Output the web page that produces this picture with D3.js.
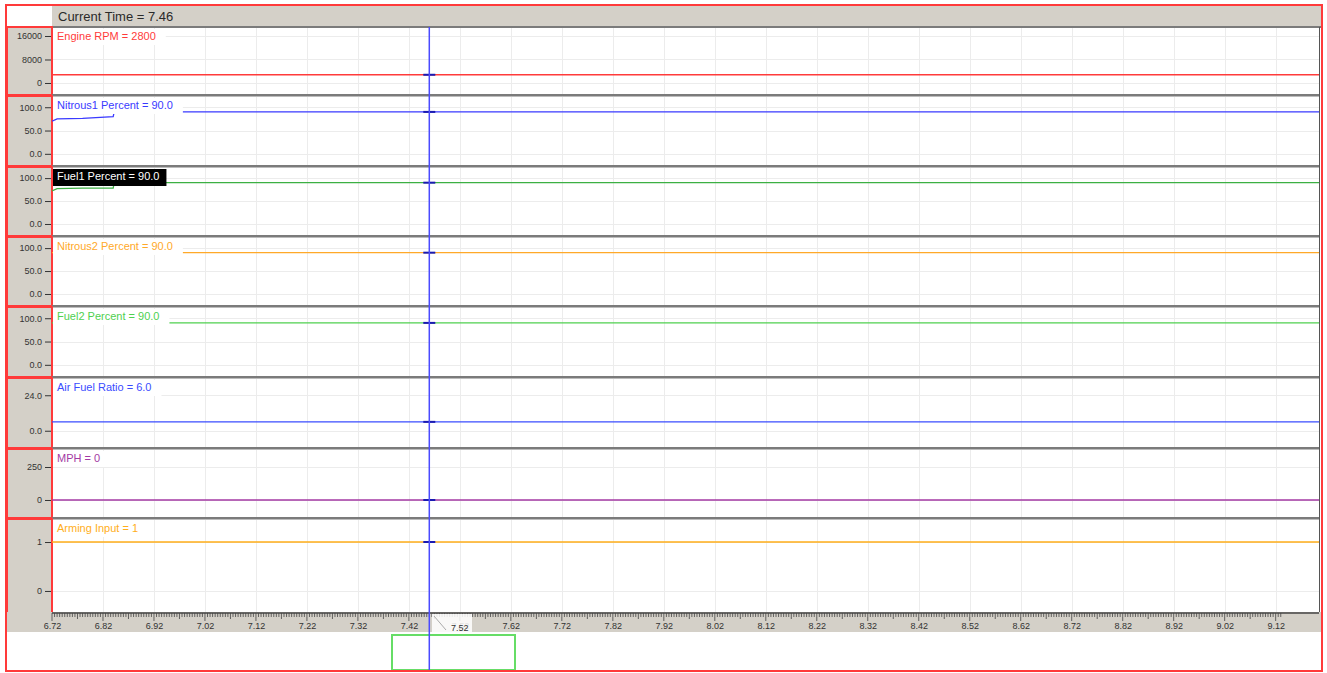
<!DOCTYPE html>
<html><head><meta charset="utf-8">
<script src="https://cdn.jsdelivr.net/npm/d3@7"></script>
<style>
html,body{margin:0;padding:0;background:#fff;}
svg{display:block;font-family:"Liberation Sans",Arial,sans-serif;}
</style></head>
<body><svg id="c" width="1327" height="673"></svg>
<script>
// ---------- data ----------
const currentTime = 7.46;
const headerText = "Current Time = 7.46";
const seriesNames = ["Engine RPM","Nitrous1 Percent","Fuel1 Percent","Nitrous2 Percent","Fuel2 Percent","Air Fuel Ratio","MPH","Arming Input"];
const seriesReadouts = ["2800","90.0","90.0","90.0","90.0","6.0","0","1"];
const times = [6.72, 6.73, 6.78, 6.84, 6.842, 9.25];
const rpmValues      = [2800, 2800, 2800, 2800, 2800, 2800];
const nitrous1Values = [70, 75, 76, 80, 90, 90];
const fuel1Values    = [72, 77, 78, 78, 90, 90];
const nitrous2Values = [90, 90, 90, 90, 90, 90];
const fuel2Values    = [90, 90, 90, 90, 90, 90];
const afrValues      = [6, 6, 6, 6, 6, 6];
const mphValues      = [0, 0, 0, 0, 0, 0];
const armingValues   = [1, 1, 1, 1, 1, 1];
const yTickValues = [[0,8000,16000],[0,50,100],[0,50,100],[0,50,100],[0,50,100],[0,24],[0,250],[0,1]];
const yTickLabels = [["0","8000","16000"],["0.0","50.0","100.0"],["0.0","50.0","100.0"],["0.0","50.0","100.0"],["0.0","50.0","100.0"],["0.0","24.0"],["0","250"],["0","1"]];
const yDomains = [[-3745,18723],[-24,122],[-24,122],[-24,122],[-24,122],[-11,35],[-129,379],[-0.43,1.45]];
const xTickValues = [6.72,6.82,6.92,7.02,7.12,7.22,7.32,7.42,7.52,7.62,7.72,7.82,7.92,8.02,8.12,8.22,8.32,8.42,8.52,8.62,8.72,8.82,8.92,9.02,9.12];
const xTickLabels = ["6.72","6.82","6.92","7.02","7.12","7.22","7.32","7.42","7.52","7.62","7.72","7.82","7.92","8.02","8.12","8.22","8.32","8.42","8.52","8.62","8.72","8.82","8.92","9.02","9.12"];
const xDomain = [6.72, 9.205];
const axisEnd = 9.13;

// ---------- styles / layout ----------
const seriesValues = [rpmValues,nitrous1Values,fuel1Values,nitrous2Values,fuel2Values,afrValues,mphValues,armingValues];
const colors = ["#ff3b3b","#3a3aff","#3cb043","#ffa929","#4fd04f","#3a4cff","#a43aa4","#ffae1a"];
const panelTop =    [28, 97, 168, 238, 308, 379, 450, 520];
const panelBottom = [94, 165, 235, 305, 376, 447, 517, 612];
const L = 52, R = 1319;
const GRAY = "#d4d0c8", RED = "#ff3a3a", SEP = "#7b7b7b";

const svg = d3.select("#c");
const x = d3.scaleLinear().domain(xDomain).range([L, R]);

// header
svg.append("rect").attr("x",L).attr("y",6).attr("width",1321-L).attr("height",21).attr("fill",GRAY);
svg.append("line").attr("x1",L).attr("x2",1321).attr("y1",27).attr("y2",27).attr("stroke",SEP).attr("stroke-width",2);
svg.append("text").attr("x",58).attr("y",21).attr("font-size",13).attr("fill","#2a2a2a").text(headerText);

const clipId = (i)=>"clip"+i;
const defs = svg.append("defs");

seriesNames.forEach((name,i)=>{
  const t = panelTop[i], b = panelBottom[i];
  const y = d3.scaleLinear().domain(yDomains[i]).range([b, t]);
  const g = svg.append("g");
  if(i>0){
    g.append("rect").attr("x",L).attr("y",panelBottom[i-1]).attr("width",R-L+1).attr("height",t-panelBottom[i-1]-0.5).attr("fill",SEP);
  }
  g.append("rect").attr("x",L).attr("y",t).attr("width",R-L).attr("height",b-t).attr("fill","#fff");
  defs.append("clipPath").attr("id",clipId(i)).append("rect").attr("x",L).attr("y",t).attr("width",R-L).attr("height",b-t);
  g.selectAll(".vg").data(xTickValues).enter().append("line")
    .attr("x1",d=>Math.round(x(d))+0.5).attr("x2",d=>Math.round(x(d))+0.5).attr("y1",t).attr("y2",b)
    .attr("stroke","#ececec").attr("stroke-width",1);
  g.selectAll(".hg").data(yTickValues[i]).enter().append("line")
    .attr("x1",L).attr("x2",R).attr("y1",d=>Math.round(y(d))+0.5).attr("y2",d=>Math.round(y(d))+0.5)
    .attr("stroke","#ececec").attr("stroke-width",1);
  g.append("rect").attr("x",7).attr("y",t-1).attr("width",L-7).attr("height",b-t+2).attr("fill",GRAY)
    .attr("stroke",RED).attr("stroke-width",2);
  const ax = d3.axisLeft(y).tickValues(yTickValues[i]).tickFormat((d,k)=>yTickLabels[i][k]).tickSize(6).tickPadding(3);
  const axg = g.append("g").attr("transform",`translate(${L-1},0)`).call(ax);
  axg.select(".domain").remove();
  axg.selectAll(".tick line").attr("stroke","#333");
  axg.selectAll(".tick text").attr("font-size",9).attr("fill","#333").attr("font-family","Liberation Sans, Arial, sans-serif");
  const data = times.map((tt,k)=>[tt, seriesValues[i][k]]);
  const line = d3.line().x(d=>x(d[0])).y(d=>y(d[1]));
  g.append("path").datum(data).attr("d",line).attr("fill","none").attr("stroke",colors[i]).attr("stroke-width",1.3)
    .attr("clip-path",`url(#${clipId(i)})`);
  const lab = g.append("g");
  const txt = lab.append("text").attr("x",57).attr("y",t+12).attr("font-size",11)
    .attr("fill", i===2 ? "#fff" : colors[i]).text(`${name} = ${seriesReadouts[i]}`);
  const w = txt.node().getComputedTextLength();
  lab.insert("rect","text").attr("x",L+1).attr("y",t+1).attr("width",w+(i===2?11:14)).attr("height",i===2?17:16)
    .attr("fill", i===2 ? "#000" : "#fff");
  const v = d3.scaleLinear().domain(times).range(seriesValues[i])(currentTime);
  g.append("line").attr("x1",x(currentTime)-6).attr("x2",x(currentTime)+6).attr("y1",y(v)).attr("y2",y(v))
    .attr("stroke","#1a1ab0").attr("stroke-width",2);
});

svg.append("line").attr("x1",R+0.5).attr("x2",R+0.5).attr("y1",27).attr("y2",613).attr("stroke","#555").attr("stroke-width",1);

// x axis strip
svg.append("rect").attr("x",7).attr("y",612).attr("width",1314).attr("height",20).attr("fill",GRAY);
svg.append("line").attr("x1",L).attr("x2",R).attr("y1",613).attr("y2",613).attr("stroke","#444").attr("stroke-width",1.5);
const minor = d3.range(0, Math.round((axisEnd - xDomain[0])/0.005)+1).map(k=>xDomain[0]+k*0.005);
svg.append("g").selectAll("line").data(minor).enter().append("line")
  .attr("x1",d=>x(d)).attr("x2",d=>x(d)).attr("y1",613)
  .attr("y2",(d,k)=> k%20===0 ? 621 : (k%10===0 ? 619 : 617))
  .attr("stroke","#444").attr("stroke-width",0.8);
const xa = d3.axisBottom(x).tickValues(xTickValues).tickFormat((d,k)=>xTickLabels[k]).tickSize(0).tickPadding(0);
const xag = svg.append("g").attr("transform","translate(0,623)").call(xa);
xag.select(".domain").remove();
xag.selectAll(".tick text").attr("font-size",9).attr("fill","#333").attr("font-family","Liberation Sans, Arial, sans-serif");

// cursor handle on axis
svg.append("rect").attr("x",432).attr("y",614).attr("width",40).attr("height",18).attr("fill","#fff").attr("opacity",0.85);
svg.append("line").attr("x1",434).attr("y1",616).attr("x2",446).attr("y2",630).attr("stroke","#aaa");
svg.append("text").attr("x",x(7.52)).attr("y",631).attr("text-anchor","middle").attr("font-size",9).attr("fill","#333").text("7.52");

// overview window
svg.append("rect").attr("x",392).attr("y",635).attr("width",123).attr("height",35).attr("fill","none")
  .attr("stroke","#66dd66").attr("stroke-width",2);

// cursor line
svg.append("line").attr("x1",x(currentTime)).attr("x2",x(currentTime)).attr("y1",27).attr("y2",671)
  .attr("stroke","#4a4aff").attr("stroke-width",1.5);

// outer border
svg.append("rect").attr("x",6).attr("y",5).attr("width",1316).attr("height",666).attr("fill","none")
  .attr("stroke",RED).attr("stroke-width",2);
</script></body></html>
